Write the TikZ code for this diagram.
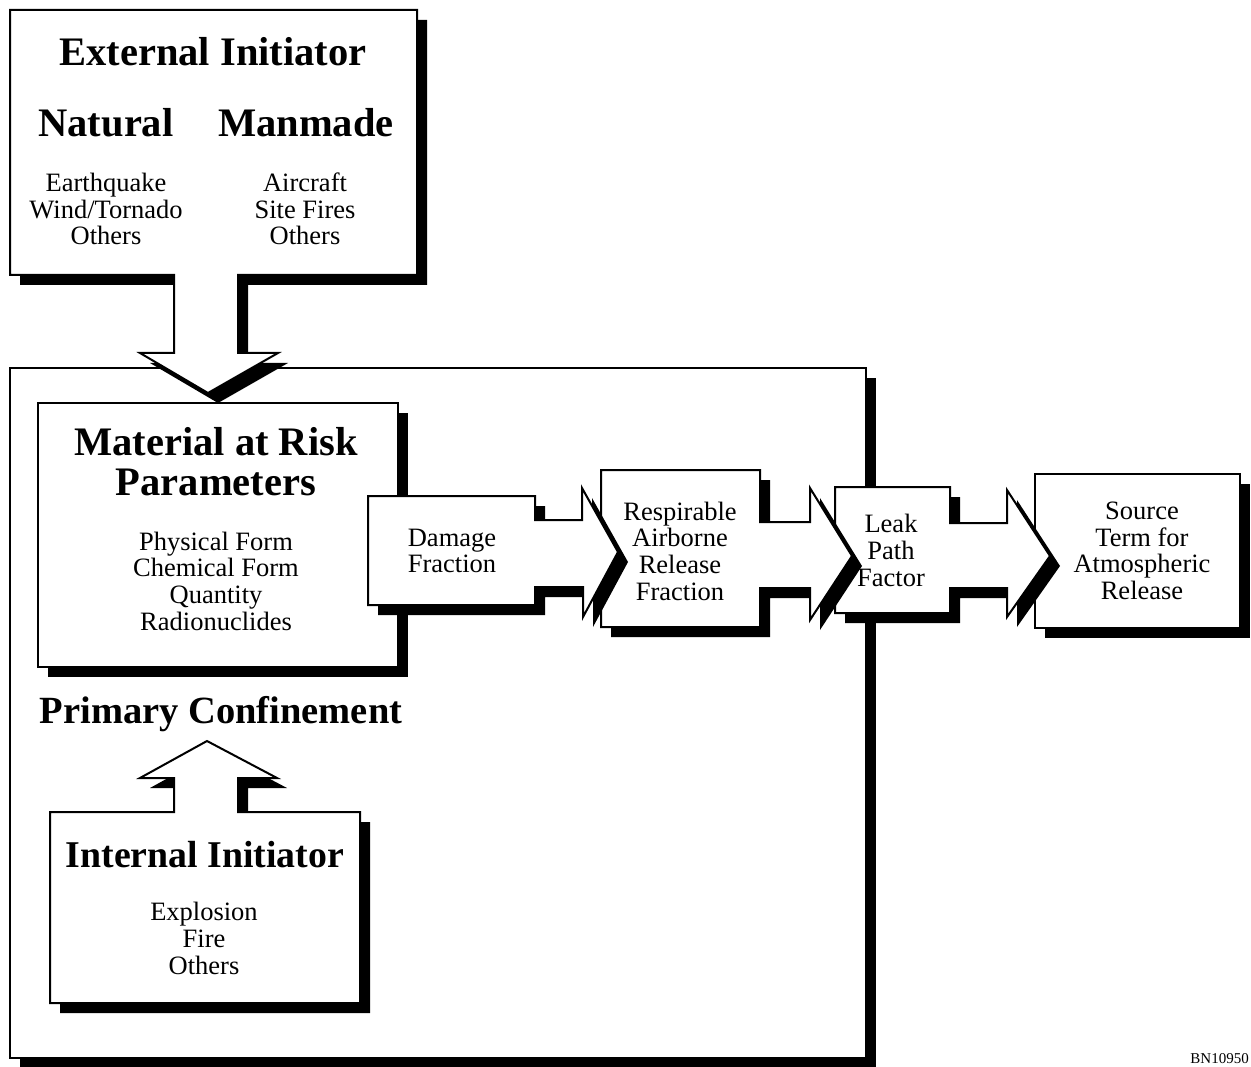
\documentclass[tikz,border=0pt]{standalone}
\usepackage{fontspec}
\setmainfont{Liberation Serif}
\newcommand\shsh[1]{\fill[shd] #1; \path[outl] #1;}
\begin{document}
\begin{tikzpicture}[x=1pt,y=-1pt,
  outl/.style={fill=white,draw=black,line width=2pt,line join=miter},
  shd/.style={fill=black,shift={(10,10)}},
  big/.style={font=\fontsize{40.5}{40}\bfseries\selectfont, inner sep=0pt, align=center},
  lst/.style={font=\fontsize{26.5}{26.7}\selectfont, align=center, inner sep=0pt}]
\useasboundingbox (0,0) rectangle (1251,1067);
% primary confinement
\shsh{(10,368) rectangle (866,1058)}
% external initiator with down arrow
\shsh{(10,10) -- (417,10) -- (417,275) -- (238,275) -- (238,353) -- (278,353) -- (208,393) -- (140,353) -- (174,353) -- (174,275) -- (10,275) -- cycle}
% material at risk
\shsh{(38,403) rectangle (398,667)}
% internal initiator with up arrow
\shsh{(50,812) -- (174,812) -- (174,778) -- (140,778) -- (207,741) -- (277,778) -- (238,778) -- (238,812) -- (360,812) -- (360,1003) -- (50,1003) -- cycle}
% source term
\shsh{(1035,474) rectangle (1240,628)}
% leak path factor
\shsh{(835,487) -- (950,487) -- (950,523) -- (1007,523) -- (1007,490) -- (1050,556) -- (1007,617) -- (1007,588) -- (950,588) -- (950,613) -- (835,613) -- cycle}
% respirable
\shsh{(601,470) -- (760,470) -- (760,522) -- (810,522) -- (810,488) -- (852,556) -- (810,620) -- (810,588) -- (760,588) -- (760,627) -- (601,627) -- cycle}
% damage fraction
\shsh{(368,496) -- (535,496) -- (535,520) -- (582,520) -- (582,488) -- (618,552) -- (583,617) -- (583,587) -- (535,587) -- (535,605) -- (368,605) -- cycle}
% texts
\node[big] (ext) at (213,51.5) {External Initiator};
\node[big] (nat) at (106,123) {Natural};
\node[big] (man) at (306,123) {Manmade};
\node[lst] (natl) at (106,209) {Earthquake\\Wind/Tornado\\Others};
\node[lst] (manl) at (305,209) {Aircraft\\Site Fires\\Others};
\node[big] (mar) at (216,462) {Material at Risk\\Parameters};
\node[lst] (marl) at (216,581) {Physical Form\\Chemical Form\\Quantity\\Radionuclides};
\node[big, font=\fontsize{38.5}{40}\bfseries\selectfont] (pc) at (221,714) {Primary Confinement};
\node[big, font=\fontsize{37.8}{40}\bfseries\selectfont] (int) at (205,855) {Internal Initiator};
\node[lst] (intl) at (204,938.5) {Explosion\\Fire\\Others};
\node[lst] (dam) at (452,551) {Damage\\Fraction};
\node[lst] (resp) at (680,551) {Respirable\\Airborne\\Release\\Fraction};
\node[lst] (leak) at (891,550.5) {Leak\\Path\\Factor};
\node[lst] (src) at (1142,551) {Source\\Term for\\Atmospheric\\Release};
\node[font=\fontsize{15}{15}\selectfont, inner sep=0pt, anchor=south east] (bn) at (1249,1064) {BN10950};
\end{tikzpicture}
\end{document}
